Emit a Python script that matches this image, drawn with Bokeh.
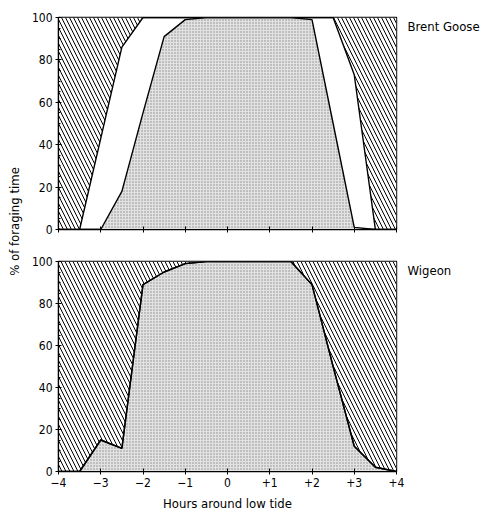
import math
import numpy as np
from bokeh.plotting import figure
from bokeh.layouts import row, column
from bokeh.models import ColumnDataSource, Label, Range1d, FixedTicker
from bokeh.embed import file_html
from bokeh.resources import INLINE

# ---- data ----
hours = [-4, -3.5, -3, -2.5, -2, -1.5, -1, -0.5, 0, 0.5, 1, 1.5, 2, 2.5, 3, 3.5, 4]
brent_stipple = [0, 0, 0, 18, 55, 91, 99, 100, 100, 100, 100, 100, 99, 50, 1, 0, 0]
brent_white = [0, 0, 43, 68, 45, 9, 1, 0, 0, 0, 0, 0, 1, 50, 72, 0, 0]
wigeon_stipple = [0, 0, 15, 11, 89, 95, 99, 100, 100, 100, 100, 100, 89, 50, 12, 2, 0]
wigeon_white = [0, 0, 0, 0, 0, 0, 0, 0, 0, 0, 0, 0, 0, 0, 0, 0, 0]

x_ticks = [-4, -3, -2, -1, 0, 1, 2, 3, 4]
x_tick_labels = ["\u22124", "\u22123", "\u22122", "\u22121", "0", "+1", "+2", "+3", "+4"]
y_ticks = [0, 20, 40, 60, 80, 100]
species = ["Brent Goose", "Wigeon"]
x_title = "Hours around low tide"
y_title = "% of foraging time"

FONT = "DejaVu Sans Condensed"


def panel(stip, white, bottom):
    n = len(hours)
    s = np.array(stip, float)
    c = s + np.array(white, float)
    src = ColumnDataSource(dict(x=hours, zero=[0] * n, s=s, c=c, top=[100] * n))
    p = figure(frame_width=338, frame_height=210 if bottom else 212,
               x_range=Range1d(-4, 4), y_range=Range1d(0, 100),
               output_backend="svg", toolbar_location=None,
               min_border_left=32, min_border_right=10,
               min_border_top=16 if bottom else 17,
               min_border_bottom=39 if bottom else 16)
    p.varea(x="x", y1="c", y2="top", source=src, fill_color="white",
            hatch_pattern="left_diagonal_line", hatch_color="black",
            hatch_scale=8, hatch_weight=1)
    p.varea(x="x", y1="zero", y2="s", source=src, fill_color="#e2e2e2",
            hatch_pattern="dot", hatch_color="#8a8a8a", hatch_scale=3,
            hatch_weight=1)
    p.line("x", "s", source=src, line_color="black", line_width=1.4)
    p.line("x", "c", source=src, line_color="black", line_width=1.4)

    p.grid.visible = False
    p.outline_line_color = "black"
    p.outline_line_width = 1.4
    p.background_fill_color = "white"
    p.border_fill_color = "white"

    p.xaxis.ticker = FixedTicker(ticks=x_ticks, minor_ticks=[])
    p.yaxis.ticker = FixedTicker(ticks=y_ticks, minor_ticks=list(range(0, 101, 5)))
    if bottom:
        p.xaxis.major_label_overrides = {t: l for t, l in zip(x_ticks, x_tick_labels)}
        p.xaxis.axis_label = x_title
    else:
        p.xaxis.major_label_overrides = {t: "" for t in x_ticks}
    for ax in (p.xaxis, p.yaxis):
        ax.axis_line_color = "black"
        ax.axis_line_width = 1.2
        ax.major_tick_in = 3
        ax.major_tick_out = 3
        ax.major_tick_line_width = 1
        ax.major_tick_line_color = "black"
        ax.major_label_text_font = FONT
        ax.major_label_text_font_size = "12px"
        ax.major_label_text_color = "black"
        ax.major_label_standoff = 3
        ax.axis_label_text_font = FONT
        ax.axis_label_text_font_size = "13px"
        ax.axis_label_text_font_style = "normal"
        ax.axis_label_text_color = "black"
        ax.axis_label_standoff = 6
    p.yaxis.minor_tick_in = 2
    p.yaxis.minor_tick_out = 0
    p.yaxis.minor_tick_line_color = "black"
    p.xaxis.minor_tick_line_color = None
    return p


top = panel(brent_stipple, brent_white, False)
bot = panel(wigeon_stipple, wigeon_white, True)


def blank(w):
    f = figure(width=w, height=510, x_range=Range1d(0, w), y_range=Range1d(510, 0),
               min_border=0, toolbar_location=None, output_backend="svg",
               x_axis_location=None, y_axis_location=None)
    f.grid.visible = False
    f.outline_line_color = None
    return f


lab = blank(26)
lab.add_layout(Label(x=14, y=221, text=y_title, angle=math.pi / 2,
                     text_align="center", text_baseline="middle",
                     text_font=FONT, text_font_size="13px", text_color="black"))

right = blank(75)
for name, ypix in zip(species, [18, 262]):
    right.add_layout(Label(x=1, y=ypix, text=name, text_baseline="top",
                           text_align="left", text_font=FONT, text_font_size="13px",
                           text_color="black"))

layout = row(lab, column(top, bot), right)
open("out.html", "w").write(file_html(layout, INLINE))
